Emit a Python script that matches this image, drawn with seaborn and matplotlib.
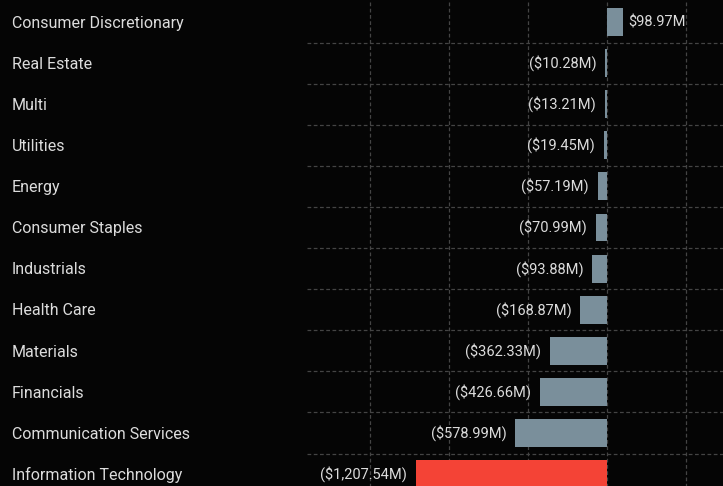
import matplotlib
matplotlib.use("Agg")
import matplotlib.pyplot as plt
import matplotlib.transforms as mtransforms
import seaborn as sns
import pandas as pd

sectors = [
    "Consumer Discretionary", "Real Estate", "Multi", "Utilities", "Energy",
    "Consumer Staples", "Industrials", "Health Care", "Materials", "Financials",
    "Communication Services", "Information Technology",
]
flows = [98.97, -10.28, -13.21, -19.45, -57.19, -70.99, -93.88, -168.87,
         -362.33, -426.66, -578.99, -1207.54]
x_ticks = [-1500, -1000, -500, 0, 500]

BG = "#050505"
BAR = "#7a8f9b"
RED = "#f44336"
TXT = "#dcdcdc"
GRID = "#444444"

sns.set_theme(style="dark")
plt.rcParams["font.family"] = ["Roboto", "DejaVu Sans"]

df = pd.DataFrame({"sector": sectors, "flow": flows})
worst = df["flow"].min()
df["group"] = ["worst" if v == worst else "other" for v in df["flow"]]

W, H = 723, 486
fig = plt.figure(figsize=(W / 100, H / 100), dpi=100, facecolor=BG)

row = 41.1
top = 22 - row / 2
bottom = top + row * len(sectors)
ax = fig.add_axes([307 / W, 1 - bottom / H, (W - 307) / W, (bottom - top) / H])
ax.set_facecolor(BG)

sns.barplot(data=df, y="sector", x="flow", hue="group",
            palette={"other": BAR, "worst": RED}, order=sectors,
            orient="h", width=0.68, dodge=False, legend=False, ax=ax,
            saturation=1, linewidth=0, edgecolor="none")

ax.set_xlim(-1896, 733)
ax.set_ylim(len(sectors) - 0.5, -0.5)
ax.set_xticks(x_ticks)
ax.set_yticks([i + 0.5 for i in range(len(sectors) - 1)])
ax.tick_params(axis="both", length=0, labelleft=False, labelbottom=False)
ax.set_xlabel("")
ax.set_ylabel("")
for s in ax.spines.values():
    s.set_visible(False)
ax.grid(True, axis="both", color=GRID, linestyle=(0, (3, 2)), linewidth=0.9)
ax.set_axisbelow(True)

# sector names sit at the far left of the figure
trans = mtransforms.blended_transform_factory(fig.transFigure, ax.transData)
for i, name in enumerate(sectors):
    fig.text(12 / W, i + 0.03, name, transform=trans, color=TXT, fontsize=11.5,
             va="center", ha="left")

# value labels beside each bar end
px = mtransforms.ScaledTranslation
for i, v in enumerate(flows):
    if v >= 0:
        lab = f"${v:,.2f}M"
        off = px(6 / 100, 0, fig.dpi_scale_trans)
        ax.text(v, i, lab, transform=ax.transData + off, color=TXT,
                fontsize=10.5, va="center", ha="left")
    else:
        lab = f"(${abs(v):,.2f}M)"
        off = px(-9 / 100, 0, fig.dpi_scale_trans)
        ax.text(v, i, lab, transform=ax.transData + off, color=TXT,
                fontsize=10.5, va="center", ha="right")

fig.savefig("out.png", dpi=100, facecolor=BG)
